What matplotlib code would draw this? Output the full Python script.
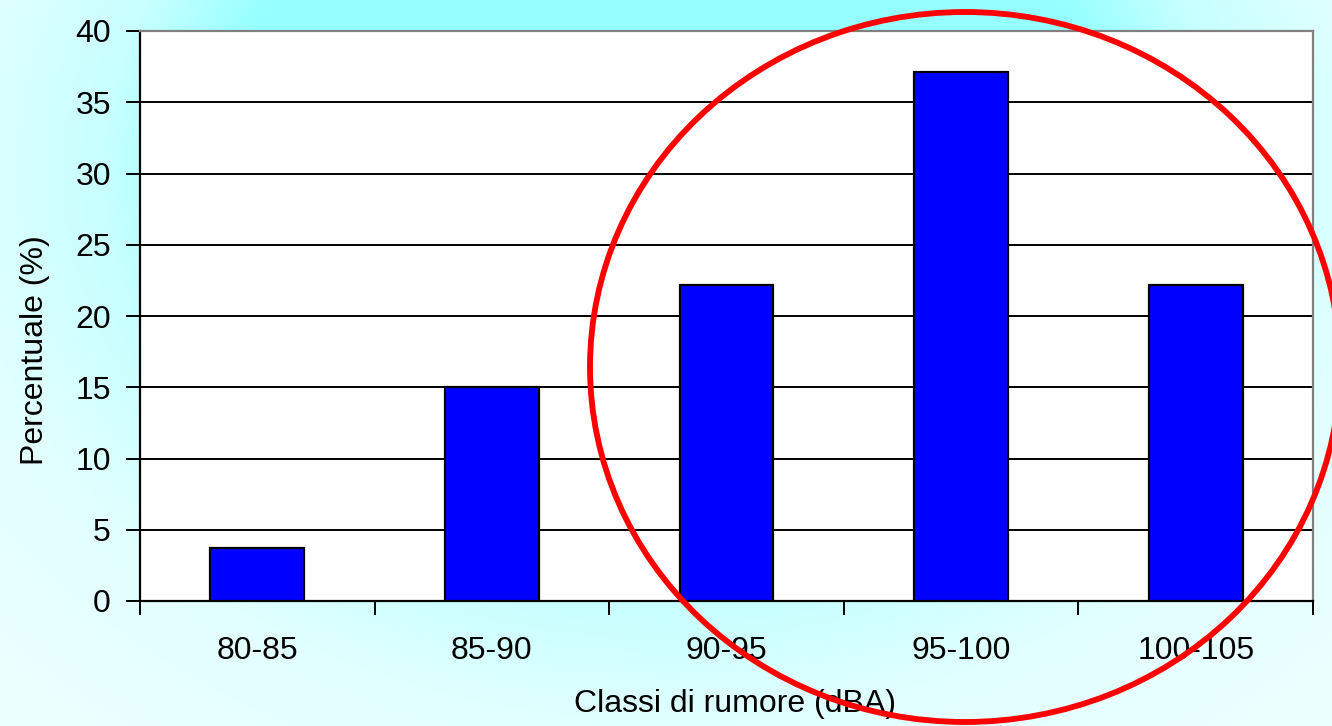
import numpy as np
import matplotlib
matplotlib.use('Agg')
import matplotlib.pyplot as plt
from matplotlib.patches import Ellipse

plt.rcParams['font.family'] = ['Liberation Sans', 'DejaVu Sans']

classes = ['80-85', '85-90', '90-95', '95-100', '100-105']
percent = [3.7, 15.0, 22.2, 37.1, 22.2]

W, H = 1332, 726
fig = plt.figure(figsize=(W / 100, H / 100), dpi=100)

# light cyan gradient background
bg = fig.add_axes([0, 0, 1, 1], zorder=-5)
yy, xx = np.mgrid[0:H, 0:W]
d = np.sqrt(((xx - 666) / 720.0) ** 2 + ((yy - 170) / 560.0) ** 2)
r = np.interp(d, [0, 0.62, 0.78, 1.0, 1.3], [0x95, 0x95, 0xC8, 0xE2, 0xEC]) / 255.0
img = np.dstack([r, np.ones_like(r), np.ones_like(r)])
bg.imshow(img, aspect='auto', extent=[0, 1, 0, 1], origin='upper')
bg.axis('off')

ax = fig.add_axes([140 / W, 1 - 601 / H, 1173 / W, 570 / H])
ax.set_facecolor('white')

x = np.arange(len(classes))
ax.bar(x, percent, width=0.4, color='#0000FF', edgecolor='black', linewidth=1.6, zorder=3)

ax.set_xlim(-0.5, len(classes) - 0.5)
ax.set_ylim(0, 40)
ax.set_yticks(np.arange(0, 41, 5))
ax.yaxis.grid(True, color='black', linewidth=1.4, zorder=1)
ax.set_axisbelow(True)

ax.set_xticks(x)
ax.set_xticklabels(classes)
ax.set_xticks(np.arange(-0.5, len(classes), 1), minor=True)
ax.tick_params(axis='x', which='major', length=0, pad=25, labelsize=23)
ax.tick_params(axis='x', which='minor', length=10, width=1.4, direction='out')
ax.tick_params(axis='y', length=10, width=1.4, pad=11, labelsize=23)

for s in ['left', 'bottom']:
    ax.spines[s].set_color('black')
    ax.spines[s].set_linewidth(1.6)
for s in ['top', 'right']:
    ax.spines[s].set_color('#808080')
    ax.spines[s].set_linewidth(1.6)

ax.set_ylabel('Percentuale (%)', fontsize=23, labelpad=18)
ax.set_xlabel('Classi di rumore (dBA)', fontsize=23, labelpad=17)
ax.yaxis.label.set_y(0.44)
ax.xaxis.label.set_x(0.507)

# red ellipse highlighting the higher classes
ell = Ellipse((965 / W, 1 - 367 / H), 750 / W, 710 / H, transform=fig.transFigure,
              fill=False, edgecolor='#FF0000', linewidth=4.2, zorder=10)
fig.add_artist(ell)

fig.savefig('out.png', dpi=100)
